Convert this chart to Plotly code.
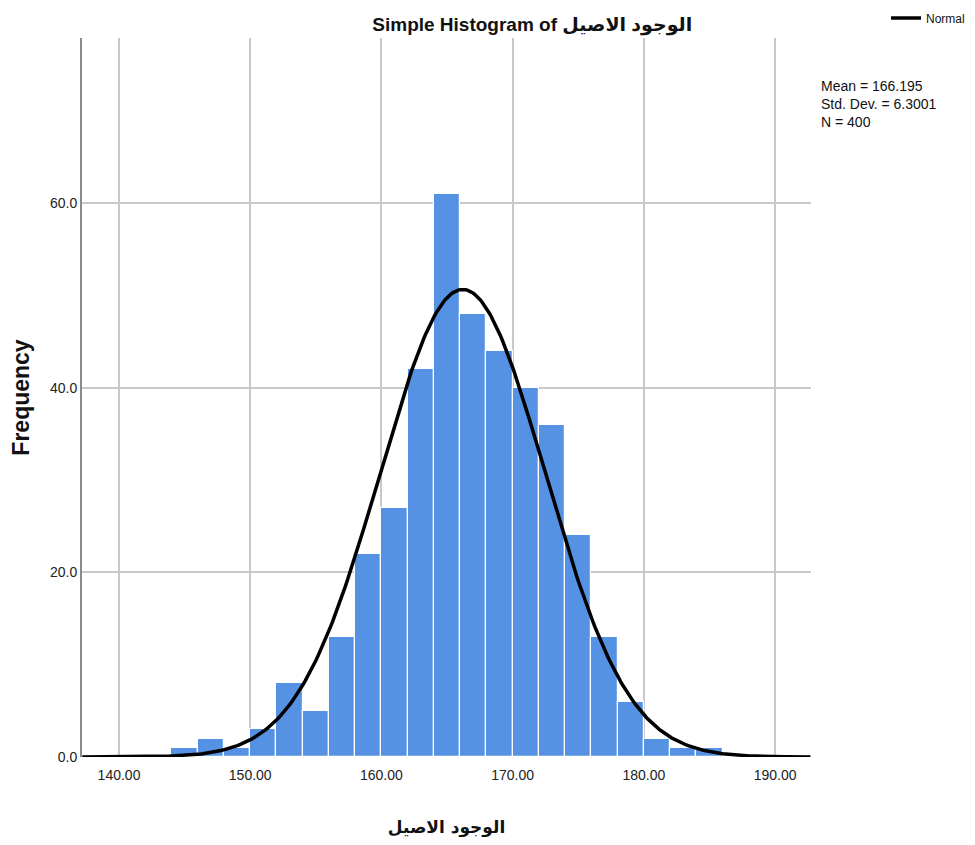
import numpy as np
import plotly.graph_objects as go

bin_starts = [144, 146, 148, 150, 152, 154, 156, 158, 160, 162, 164, 166, 168, 170, 172, 174, 176, 178, 180, 182, 184]
counts = [1, 2, 1, 3, 8, 5, 13, 22, 27, 42, 61, 48, 44, 40, 36, 24, 13, 6, 2, 1, 1]
bin_width = 2
mean_val = 166.195
std_val = 6.3001
n_val = 400
x_ticks = [140, 150, 160, 170, 180, 190]
y_ticks = [0, 20, 40, 60]
arabic_label = "الوجود الاصيل"

centers = [b + bin_width / 2 for b in bin_starts]
xc = np.linspace(137.2, 192.7, 400)
yc = n_val * bin_width / (std_val * np.sqrt(2 * np.pi)) * np.exp(-0.5 * ((xc - mean_val) / std_val) ** 2)

font_main = "Liberation Sans Narrow, Liberation Sans, Arial, sans-serif"

fig = go.Figure()
fig.add_trace(go.Bar(x=centers, y=counts, width=bin_width,
                     marker=dict(color="#5592e4", line=dict(color="white", width=1.2)),
                     showlegend=False, hoverinfo="x+y"))
fig.add_trace(go.Scatter(x=xc, y=yc, mode="lines", name="Normal",
                         line=dict(color="black", width=3.5)))

fig.update_layout(
    width=962, height=830,
    margin=dict(l=74, r=159, t=30, b=81, autoexpand=False),
    paper_bgcolor="white", plot_bgcolor="white",
    font=dict(family=font_main, size=13, color="#222"),
    bargap=0,
    title=dict(text="<b>Simple Histogram of " + arabic_label + "</b>", x=0.545, xanchor="center", y=0.98, yanchor="middle",
               font=dict(family="Liberation Sans, DejaVu Sans, sans-serif", size=19, color="#111")),
    legend=dict(xref="container", yref="container", x=1.0, y=0.988, xanchor="right", yanchor="middle",
                bgcolor="rgba(0,0,0,0)", font=dict(size=12, color="#111"), itemwidth=30),
    xaxis=dict(range=[137.18, 192.74], tickvals=x_ticks, ticktext=[f"{v:.2f}" for v in x_ticks],
               showgrid=True, gridcolor="#c8c8c8", gridwidth=1.5, zeroline=False,
               showline=False, ticks="", ticklen=0, automargin=False, ticklabelstandoff=8,
               tickfont=dict(size=14),
               title=dict(text="<b>" + arabic_label + "</b>", standoff=44,
                          font=dict(family="DejaVu Sans, sans-serif", size=17, color="#111"))),
    yaxis=dict(range=[0, 77.9], tickvals=y_ticks, ticktext=[f"{v:.1f}" for v in y_ticks],
               showgrid=True, gridcolor="#c8c8c8", gridwidth=1.5, zeroline=False,
               showline=True, linecolor="#8c8c8c", linewidth=2, ticks="", automargin=False,
               tickfont=dict(size=14),
               title=dict(text="<b>Frequency</b>", standoff=24,
                          font=dict(family="Liberation Sans, sans-serif", size=23, color="#111"))),
)
fig.add_annotation(x=1.0, y=0.947, xref="paper", yref="paper", xanchor="left", yanchor="top",
                   xshift=8, align="left", showarrow=False,
                   text=f"Mean = {mean_val}<br>Std. Dev. = {std_val}<br>N = {n_val}",
                   font=dict(size=14, color="#111"))
fig.write_html("out.html")
